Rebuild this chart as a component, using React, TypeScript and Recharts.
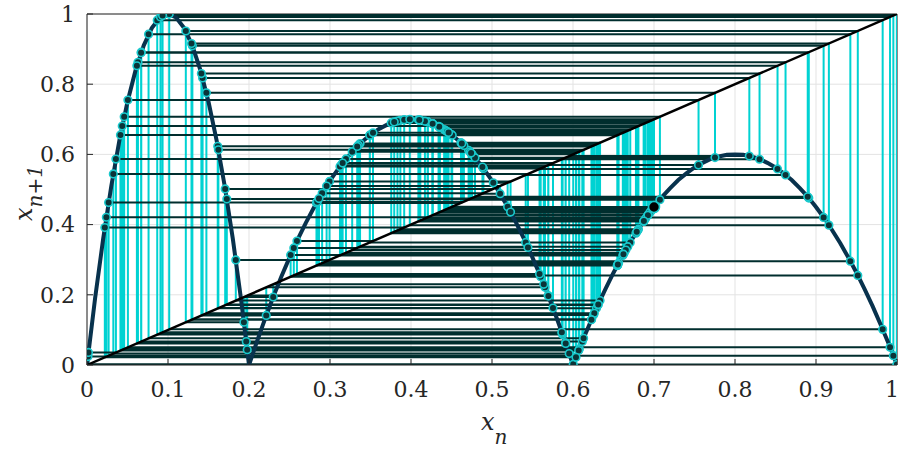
import { CartesianGrid, ComposedChart, Line, ReferenceLine, Scatter, XAxis, YAxis } from "recharts";

const X_TICKS = [0, 0.1, 0.2, 0.3, 0.4, 0.5, 0.6, 0.7, 0.8, 0.9, 1];
const Y_TICKS = [0, 0.2, 0.4, 0.6, 0.8, 1];

// map curve sampled every 0.01 on [0, 1]
const CURVE_Y = [
  0, 0.19, 0.36, 0.51, 0.64, 0.75, 0.84, 0.91, 0.96, 0.99, 1.0,
  0.99, 0.96, 0.91, 0.84, 0.75, 0.64, 0.51, 0.36, 0.19, 0,
  0.068, 0.133, 0.194, 0.252, 0.306, 0.357, 0.404, 0.448, 0.488, 0.525,
  0.558, 0.588, 0.614, 0.637, 0.656, 0.672, 0.684, 0.693, 0.698, 0.7,
  0.698, 0.693, 0.684, 0.672, 0.656, 0.637, 0.614, 0.588, 0.558, 0.525,
  0.488, 0.448, 0.404, 0.357, 0.306, 0.252, 0.194, 0.133, 0.068, 0,
  0.059, 0.114, 0.167, 0.216, 0.263, 0.306, 0.347, 0.384, 0.419, 0.45,
  0.479, 0.504, 0.527, 0.546, 0.563, 0.576, 0.587, 0.594, 0.599, 0.6,
  0.599, 0.594, 0.587, 0.576, 0.563, 0.546, 0.527, 0.504, 0.479, 0.45,
  0.419, 0.384, 0.347, 0.306, 0.263, 0.216, 0.167, 0.114, 0.059, 0,
];

const DIAGONAL = [0, 1];

// iterates x_0, x_1, ... of the orbit
const ORBIT = [
  0.7, 0.45, 0.6563, 0.2903, 0.4894, 0.5601, 0.2514, 0.3136, 0.5694, 0.1978,
  0.0435, 0.6808, 0.3869, 0.697, 0.4409, 0.6707, 0.3492, 0.6548, 0.2838, 0.4637,
  0.629, 0.1614, 0.623, 0.1301, 0.9094, 0.4205, 0.6926, 0.427, 0.6872, 0.4091,
  0.6986, 0.4458, 0.6633, 0.3197, 0.5872, 0.0867, 0.9823, 0.1015, 0.9998, 0.0012,
  0.0239, 0.4209, 0.6924, 0.4263, 0.6879, 0.4115, 0.6977, 0.443, 0.6676, 0.3371,
  0.6308, 0.1706, 0.5016, 0.5193, 0.4509, 0.6547, 0.2833, 0.4617, 0.6334, 0.1837,
  0.2994, 0.5229, 0.4357, 0.6777, 0.3756, 0.6896, 0.4172, 0.6948, 0.434, 0.6798,
  0.3833, 0.6951, 0.4349, 0.6787, 0.3793, 0.6925, 0.4267, 0.6875, 0.4102, 0.6982,
  0.4446, 0.6652, 0.3274, 0.6078, 0.0459, 0.7073, 0.4711, 0.6115, 0.067, 0.8911,
  0.4755, 0.6003, 0.0018, 0.0357, 0.5866, 0.0907, 0.9914, 0.0505, 0.755, 0.5696,
  0.1966, 0.0668, 0.8898, 0.479, 0.5908, 0.0629, 0.8624, 0.5416, 0.3491, 0.6549,
  0.2842, 0.4653, 0.6254, 0.1427, 0.8177, 0.5953, 0.0325, 0.5444, 0.3351, 0.6263,
  0.1474, 0.7753, 0.591, 0.0616, 0.8525, 0.5587, 0.2592, 0.3531, 0.6615, 0.3123,
  0.5654, 0.2213, 0.1412, 0.8303, 0.5862, 0.0933, 0.9955, 0.0267, 0.4627, 0.6312,
  0.1726, 0.4729, 0.607, 0.0413, 0.6554, 0.2864, 0.4742, 0.6037, 0.022, 0.3916,
  0.6988, 0.4464, 0.6623, 0.3156, 0.5753, 0.1622, 0.6131, 0.076, 0.9424, 0.2958,
  0.51, 0.4882, 0.5639, 0.2299, 0.1937, 0.122, 0.9516, 0.2553, 0.3336, 0.6228,
  0.129, 0.9159, 0.3985, 0.7, 0.45,
];

type Pt = { x: number; y: number | null };

const curveData: Pt[] = CURVE_Y.map((y, i) => ({ x: i / 100, y }));
const diagData: Pt[] = DIAGONAL.map((v) => ({ x: v, y: v }));

// vertical step: diagonal -> curve, horizontal step: curve -> diagonal
const vertData: Pt[] = [];
const horzData: Pt[] = [];
const pointData: Pt[] = [];
for (let n = 0; n < ORBIT.length - 1; n++) {
  const a = ORBIT[n];
  const b = ORBIT[n + 1];
  vertData.push({ x: a, y: a }, { x: a, y: b }, { x: a, y: null });
  horzData.push({ x: a, y: b }, { x: b, y: b }, { x: b, y: null });
  pointData.push({ x: a, y: b });
}
const startData = pointData.slice(0, 1);

const FONT = "DejaVu Serif, Liberation Serif, Times New Roman, serif";
const AXIS = "#262626";

const Dot = (props: any) => (
  <circle cx={props.cx} cy={props.cy} r={3.8} fill="#0b3438" stroke="#19c9cc" strokeWidth={1.6} />
);
const StartDot = (props: any) => (
  <circle cx={props.cx} cy={props.cy} r={5.5} fill="#000" stroke="#19c9cc" strokeWidth={1.6} />
);

// x tick labels; the last one is nudged left so it stays inside the frame
const XTick = (props: any) => {
  const { x, y, payload } = props;
  const last = payload.value === 1;
  return (
    <text
      x={last ? x - 3 : x}
      y={y}
      dy="0.71em"
      textAnchor="middle"
      fontFamily={FONT}
      fontSize={22}
      fill={AXIS}
    >
      {String(payload.value)}
    </text>
  );
};

export default function App() {
  return (
    <div style={{ position: "absolute", left: 0, top: 0, width: 899, height: 451, background: "#fff" }}>
      <ComposedChart width={899} height={451} margin={{ top: 14, right: 2, left: 0, bottom: 0 }}>
        <CartesianGrid stroke="#e3e3e3" strokeWidth={1} />
        <XAxis
          type="number"
          dataKey="x"
          domain={[0, 1]}
          ticks={X_TICKS}
          allowDataOverflow
          height={86}
          stroke={AXIS}
          tickSize={-6}
          tickMargin={22}
          tick={XTick}
        />
        <YAxis
          type="number"
          dataKey="y"
          domain={[0, 1]}
          ticks={Y_TICKS}
          allowDataOverflow
          width={87}
          stroke={AXIS}
          tickSize={-6}
          tickMargin={18}
          tick={{ fontFamily: FONT, fontSize: 22, fill: AXIS }}
          tickFormatter={(v) => String(v)}
        />
        <ReferenceLine y={1} stroke={AXIS} strokeWidth={1} />
        <ReferenceLine x={1} stroke={AXIS} strokeWidth={1} />
        <Line data={vertData} dataKey="y" stroke="#00d2d2" strokeWidth={2} dot={false} activeDot={false} isAnimationActive={false} />
        <Line data={horzData} dataKey="y" stroke="#002e2e" strokeWidth={2} dot={false} activeDot={false} isAnimationActive={false} />
        <Line data={curveData} dataKey="y" stroke="#08324d" strokeWidth={4} dot={false} activeDot={false} isAnimationActive={false} />
        <Line data={diagData} dataKey="y" stroke="#000" strokeWidth={2.5} dot={false} activeDot={false} isAnimationActive={false} />
        <Scatter data={pointData} dataKey="y" shape={Dot} isAnimationActive={false} />
        <Scatter data={startData} dataKey="y" shape={StartDot} isAnimationActive={false} />
      </ComposedChart>
      <div style={{ position: "absolute", left: 481, top: 410, fontFamily: FONT, fontSize: 24, fontStyle: "italic", color: AXIS, lineHeight: 1 }}>
        x<span style={{ fontSize: 20, position: "relative", top: 14 }}>n</span>
      </div>
      <div
        style={{
          position: "absolute",
          left: 24,
          top: 193,
          transform: "translate(-50%, -50%) rotate(-90deg)",
          fontFamily: FONT,
          fontSize: 24,
          fontStyle: "italic",
          color: AXIS,
          whiteSpace: "nowrap",
          lineHeight: 1,
        }}
      >
        x<span style={{ fontSize: 20, position: "relative", top: 10 }}>n+1</span>
      </div>
    </div>
  );
}
